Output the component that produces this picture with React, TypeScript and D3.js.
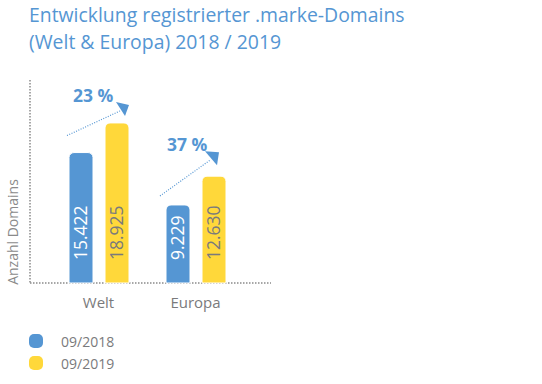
import React from "react";
import * as d3 from "d3";

const categories = ["Welt", "Europa"];
const seriesNames = ["09/2018", "09/2019"];
const values2018 = [15422, 9229];
const values2019 = [18925, 12630];
const valueLabels2018 = ["15.422", "9.229"];
const valueLabels2019 = ["18.925", "12.630"];
const growthLabels = ["23 %", "37 %"];
const colors = ["#5596d3", "#ffd83a"];
const titleLines = ["Entwicklung registrierter .marke-Domains", "(Welt & Europa) 2018 / 2019"];

// hand-placed annotation offsets (relative to group start and bar tops)
const arrowLayout = [
  { sx: 17, sy: -17, ex: 70, ey: -12, head: [[66, -21], [79, -18], [75, -7]], lx: 23, ly: -21 },
  { sx: 13, sy: -9, ex: 63, ey: -16, head: [[58, -25], [72, -24], [70, -11]], lx: 20, ly: -25 },
];

const W = 542, H = 384;
const FONT = "'Open Sans', sans-serif";

function topRoundedRect(x: number, y: number, w: number, h: number, r: number) {
  const p = d3.path();
  p.moveTo(x, y + h);
  p.lineTo(x, y + r);
  p.arcTo(x, y, x + r, y, r);
  p.lineTo(x + w - r, y);
  p.arcTo(x + w, y, x + w, y + r, r);
  p.lineTo(x + w, y + h);
  p.closePath();
  return p.toString();
}

export default function App() {
  const x0 = d3.scaleBand<string>().domain(categories).range([50, 244]).padding(0);
  const x1 = d3.scaleBand<string>().domain(seriesNames).range([19, 79]).paddingInner(1 / 3).paddingOuter(0);
  const y = d3.scaleLinear().domain([0, 24000]).range([283, 80]);
  const series = [values2018, values2019];
  const labels = [valueLabels2018, valueLabels2019];
  const textColors = ["#ffffff", "#7a7a7c"];

  return (
    <svg width={W} height={H} style={{ position: "absolute", left: 0, top: 0 }}>
      <rect width={W} height={H} fill="#fff" />
      {titleLines.map((t, i) => (
        <text key={i} x={29} y={22 + i * 27} fill="#5596d3" fontFamily={FONT} fontSize={19.4}>{t}</text>
      ))}
      {/* axes */}
      <line x1={30} x2={30} y1={80} y2={283} stroke="#8a8a8a" strokeWidth={1.5} strokeDasharray="1.5,1.5" />
      <line x1={30} x2={271} y1={283} y2={283} stroke="#8a8a8a" strokeWidth={1.5} strokeDasharray="1.5,1.5" />
      <text transform={`translate(18,232) rotate(-90)`} textAnchor="middle" fill="#8a8a8a" fontFamily={FONT} fontSize={14}>Anzahl Domains</text>
      {categories.map((c, ci) => (
        <g key={c}>
          {seriesNames.map((s, si) => {
            const bx = (x0(c) as number) + (x1(s) as number);
            const bw = x1.bandwidth();
            const v = series[si][ci];
            const top = y(v);
            return (
              <g key={s}>
                <path d={topRoundedRect(bx, top, bw, y(0) - top, 5)} fill={colors[si]} stroke="#ffffff" strokeWidth={1} />
                <text transform={`translate(${bx + bw / 2 + 6},260) rotate(-90)`} fill={textColors[si]} fontFamily={FONT} fontSize={17.5}>{labels[si][ci]}</text>
              </g>
            );
          })}
          <text x={(x0(c) as number) + x0.bandwidth() / 2} y={308} textAnchor="middle" fill="#7a7a7c" fontFamily={FONT} fontSize={15}>{c}</text>
        </g>
      ))}
      {/* growth arrows */}
      {categories.map((c, ci) => {
        const bx = x0(c) as number;
        const L = arrowLayout[ci];
        const y18 = y(values2018[ci]);
        const y19 = y(values2019[ci]);
        const pts = L.head.map(([dx, dy]) => `${bx + dx},${y19 + dy}`).join(" ");
        return (
          <g key={c}>
            <line x1={bx + L.sx} y1={y18 + L.sy} x2={bx + L.ex} y2={y19 + L.ey} stroke="#5596d3" strokeWidth={1.2} strokeDasharray="1,1.5" />
            <polygon points={pts} fill="#5596d3" />
            <text x={bx + L.lx} y={y19 + L.ly} fill="#5596d3" fontFamily={FONT} fontWeight={700} fontSize={17.5}>{growthLabels[ci]}</text>
          </g>
        );
      })}
      {/* legend */}
      {seriesNames.map((s, i) => (
        <g key={s}>
          <rect x={29} y={334 + i * 22} width={14} height={14} rx={5} fill={colors[i]} />
          <text x={61} y={347 + i * 22} fill="#7a7a7c" fontFamily={FONT} fontSize={14}>{s}</text>
        </g>
      ))}
    </svg>
  );
}
